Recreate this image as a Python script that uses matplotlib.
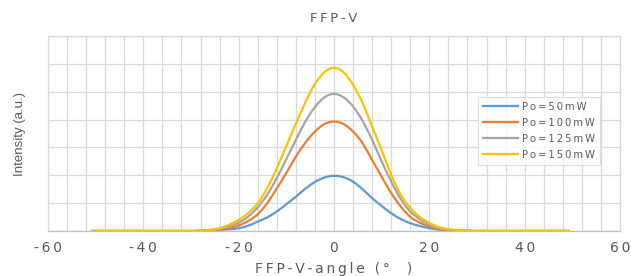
import matplotlib

matplotlib.use("Agg")
import matplotlib.pyplot as plt
from matplotlib.lines import Line2D
from matplotlib.patches import PathPatch
from matplotlib.path import Path
from matplotlib.ticker import MultipleLocator

# angle (deg) and intensity (a.u.)
angle = [-51, -40, -30, -28, -26, -24, -22, -20, -18, -16, -14, -12, -10, -8, -6, -4, -2,
         0, 2, 4, 6, 8, 10, 12, 14, 16, 18, 20, 22, 24, 26, 28, 30, 40, 49.5]
p50 = [0, 0, 0, 0.01, 0.02, 0.04, 0.06, 0.10, 0.19, 0.34, 0.49, 0.70, 0.96, 1.23, 1.52, 1.76, 1.92,
       1.98, 1.93, 1.77, 1.50, 1.18, 0.90, 0.64, 0.43, 0.28, 0.18, 0.10, 0.05, 0.03, 0.01, 0.005, 0, 0, 0]
p100 = [0, 0, 0, 0.01, 0.03, 0.06, 0.11, 0.20, 0.36, 0.60, 1.00, 1.53, 2.08, 2.67, 3.17, 3.57, 3.84,
        3.93, 3.84, 3.57, 3.15, 2.55, 1.95, 1.36, 0.88, 0.51, 0.30, 0.16, 0.07, 0.04, 0.02, 0.01, 0, 0, 0]
p125 = [0, 0, 0, 0.01, 0.04, 0.08, 0.17, 0.30, 0.52, 0.85, 1.31, 1.90, 2.58, 3.27, 3.93, 4.45, 4.80,
        4.92, 4.80, 4.47, 3.95, 3.27, 2.50, 1.77, 1.15, 0.70, 0.42, 0.22, 0.10, 0.05, 0.02, 0.01, 0, 0, 0]
p150 = [0, 0, 0, 0.01, 0.04, 0.10, 0.22, 0.40, 0.64, 1.00, 1.54, 2.25, 3.05, 3.85, 4.62, 5.28, 5.70,
        5.86, 5.70, 5.25, 4.60, 3.75, 2.90, 2.01, 1.30, 0.83, 0.50, 0.29, 0.14, 0.07, 0.03, 0.01, 0, 0, 0]

labels = ["Po=50mW", "Po=100mW", "Po=125mW", "Po=150mW"]
colors = ["#5B9BD5", "#ED7D31", "#A5A5A5", "#FFC000"]
text_color = "#595959"
grid_color = "#D9D9D9"
THIN = "\u2009"


def spaced(s, gap=THIN):
    return gap.join(s)


def smooth_path(xs, ys):
    """Catmull-Rom through the points, written as cubic Bezier segments (like a smoothed Excel line)."""
    verts = [(xs[0], ys[0])]
    codes = [Path.MOVETO]
    n = len(xs)
    for i in range(n - 1):
        x0, y0 = (xs[i - 1], ys[i - 1]) if i > 0 else (xs[i], ys[i])
        x1, y1 = xs[i], ys[i]
        x2, y2 = xs[i + 1], ys[i + 1]
        x3, y3 = (xs[i + 2], ys[i + 2]) if i + 2 < n else (x2, y2)
        h = x2 - x1
        # tangents scaled to the segment length so uneven spacing does not overshoot
        m1 = (y2 - y0) / (x2 - x0) if x2 != x0 else 0
        m2 = (y3 - y1) / (x3 - x1) if x3 != x1 else 0
        verts += [(x1 + h / 3, y1 + m1 * h / 3), (x2 - h / 3, y2 - m2 * h / 3), (x2, y2)]
        codes += [Path.CURVE4] * 3
    return Path(verts, codes)


fig = plt.figure(figsize=(6.31, 2.76), dpi=100)
ax = fig.add_axes([48 / 631, 45 / 276, 572 / 631, 195 / 276])

handles = []
for values, label, color in zip([p50, p100, p125, p150], labels, colors):
    ax.add_patch(PathPatch(smooth_path(angle, values), fill=False, edgecolor=color,
                           lw=1.6, capstyle="butt", joinstyle="round"))
    handles.append(Line2D([], [], color=color, lw=1.6, label=spaced(label)))

ax.set_xlim(-60, 60)
ax.set_ylim(0, 7)
ax.xaxis.set_minor_locator(MultipleLocator(4))
ax.yaxis.set_major_locator(MultipleLocator(1))
ticks = list(range(-60, 61, 20))
ax.set_xticks(ticks)
ax.set_xticklabels([spaced(str(t)) for t in ticks])
ax.set_yticklabels([])
ax.grid(which="both", color=grid_color, lw=0.9)
ax.set_axisbelow(True)
ax.tick_params(which="both", length=0, labelsize=10, labelcolor=text_color, pad=7)
for side, spine in ax.spines.items():
    spine.set_color(grid_color if side != "bottom" else "#BFBFBF")
    spine.set_linewidth(0.9)

ax.set_title(spaced("FFP-V"), fontsize=9.5, color=text_color, pad=10)
ax.set_xlabel(spaced("FFP-V-angle (°  )"), fontsize=10, color=text_color, labelpad=5)
ax.set_ylabel("Intensity (a.u.)", fontsize=9.5, color=text_color, labelpad=9,
              family=["Liberation Sans", "DejaVu Sans"])

leg = ax.legend(handles=handles, loc="upper left",
                bbox_to_anchor=((473 - 48) / 572, (231 - 92) / 195),
                fontsize=7.2, frameon=True, fancybox=False, handlelength=3.5,
                handletextpad=0.4, labelspacing=0.6, borderpad=0.5)
leg.get_frame().set_edgecolor(grid_color)
leg.get_frame().set_linewidth(0.9)
for text in leg.get_texts():
    text.set_color(text_color)

fig.savefig("out.png", dpi=100)
